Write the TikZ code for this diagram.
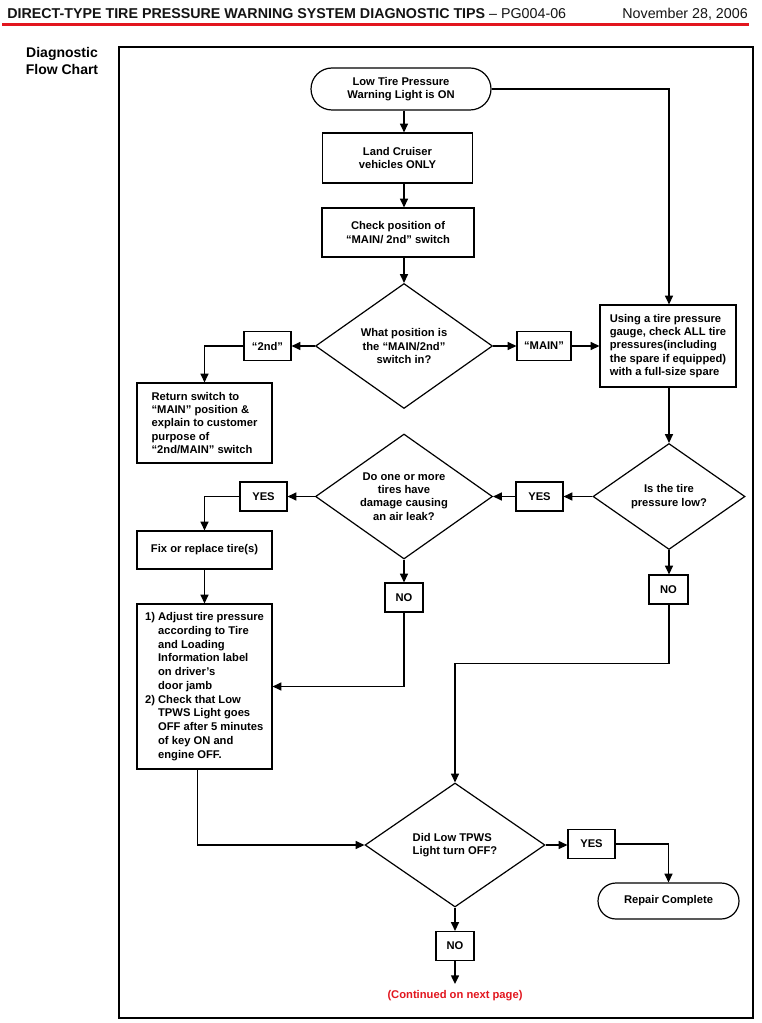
\documentclass[tikz,border=0pt]{standalone}
\usepackage{fontspec}
\setmainfont{Liberation Sans}
\usepackage{xcolor}
\usepackage{tikz}
\usetikzlibrary{arrows.meta, shapes.geometric, shapes.misc}
\definecolor{tpred}{RGB}{226,22,30}
\definecolor{tpdark}{RGB}{20,20,20}
\newcommand{\px}{0.75pt}
\newcommand{\chartfont}{\fontsize{8.4}{10}\selectfont\bfseries}
\newcommand{\hd}{\phantom{1)\ }}

\begin{document}
\begin{tikzpicture}[x=0.75pt, y=-0.75pt,
  stepbox/.style={draw, line width=0.9pt, font=\chartfont, align=center, inner sep=0pt},
  answer/.style={stepbox, minimum height=29*\px},
  decision/.style={draw, diamond, aspect=1.42, line width=0.9pt, font=\chartfont, align=center, inner sep=0pt},
  terminal/.style={draw, rounded rectangle, line width=0.9pt, font=\chartfont, align=center, inner sep=0pt},
  link/.style={line width=1pt, -{Triangle[length=6.5pt, width=6pt]}}]
\useasboundingbox (0,0) rectangle (762,1023);
\fill[white] (0,0) rectangle (762,1023);

% ---- page header ----
\node[anchor=base west, inner sep=0pt, text=tpdark, font=\fontsize{10.7}{12}\selectfont] (title) at (7,19)
  {\textbf{DIRECT-TYPE TIRE PRESSURE WARNING SYSTEM DIAGNOSTIC TIPS} -- PG004-06};
\node[anchor=base east, inner sep=0pt, text=tpdark, font=\fontsize{10.7}{12}\selectfont] (date) at (748,19)
  {November 28, 2006};
\draw[tpred, line width=2.3pt] (2,24.5) -- (749,24.5);

% ---- side heading + frame ----
\node[font=\fontsize{10.5}{12.4}\selectfont\bfseries, align=center] (side) at (62,61) {Diagnostic\\Flow Chart};
\draw[line width=1.1pt] (119,47) rectangle (753,1018);

% ---- steps ----
\node[terminal, minimum width=180*\px, minimum height=42*\px] (start) at (401,89)
  {Low Tire Pressure\\Warning Light is ON};
\node[stepbox, minimum width=150*\px, minimum height=50*\px] (cruiser) at (397.5,158)
  {Land Cruiser\\vehicles ONLY};
\node[stepbox, minimum width=152*\px, minimum height=49*\px] (check) at (398,232.5)
  {Check position of\\“MAIN/ 2nd” switch};
\node[decision, minimum width=177*\px, minimum height=125*\px] (switchpos) at (404,346)
  {What position is\\the “MAIN/2nd”\\switch in?};
\node[stepbox, align=left, minimum width=135*\px, minimum height=80*\px] (back) at (204.5,423)
  {Return switch to\\“MAIN” position \&\\explain to customer\\purpose of\\“2nd/MAIN” switch};
\node[stepbox, align=left, minimum width=136*\px, minimum height=82*\px] (gauge) at (668,346)
  {Using a tire pressure\\gauge, check ALL tire\\pressures(including\\the spare if equipped)\\with a full-size spare};
\node[decision, minimum width=152*\px, minimum height=106*\px] (low) at (669,496.5)
  {Is the tire\\pressure low?};
\node[decision, minimum width=177*\px, minimum height=125*\px] (leak) at (404,496.5)
  {Do one or more\\tires have\\damage causing\\an air leak?};
\node[stepbox, minimum width=135*\px, minimum height=38*\px] (fix) at (204.5,550)
  {Fix or replace tire(s)};
\node[stepbox, align=left, minimum width=135*\px, minimum height=165*\px,
      font=\fontsize{8.4}{10.3}\selectfont\bfseries] (adjust) at (204.5,686.5)
  {1) Adjust tire pressure\\\hd according to Tire\\\hd and Loading\\\hd Information label\\\hd on driver's\\\hd door jamb\\
   2) Check that Low\\\hd TPWS Light goes\\\hd OFF after 5 minutes\\\hd of key ON and\\\hd engine OFF.};
\node[decision, align=left, minimum width=180*\px, minimum height=124*\px] (lightoff) at (455,845)
  {Did Low TPWS\\Light turn OFF?};
\node[terminal, minimum width=141*\px, minimum height=36*\px] (done) at (668.5,901)
  {Repair Complete};

% ---- answer tags ----
\foreach \nm/\x/\y/\w/\t in {sec/267.5/346/47/“2nd”, main/544/346/54/“MAIN”,
                             yesa/539.5/496.5/47/YES, yesb/263.5/496.5/47/YES,
                             noa/404/597.5/38/NO, nob/668.5/589.5/39/NO,
                             yesc/591.5/844/47/YES, noc/455/946/38/NO}{
  \node[answer, minimum width=\w*\px] (\nm) at (\x,\y) {\t};
}
\coordinate (nextpage) at (455,984);
\node[font=\chartfont, text=tpred] (cont) at (455,996) {(Continued on next page)};

% ---- connectors ----
\draw[link] (switchpos.north |- start.south) -- (switchpos.north |- cruiser.north);
\draw[link] (switchpos.north |- cruiser.south) -- (switchpos.north |- check.north);
\draw[link] (switchpos.north |- check.south) -- (switchpos.north);
\draw[link] (switchpos.west) -- (sec.east |- switchpos.west);
\draw[link] (sec.west) -| (back.north);
\draw[link] (switchpos.east) -- (main.west |- switchpos.east);
\draw[link] (main.east) -- (gauge.west);
\draw[link] (start.east) -| (low.north |- gauge.north);
\draw[link] (low.north |- gauge.south) -- (low.north);
\draw[link] (low.west) -- (yesa.east |- low.west);
\draw[link] (yesa.west) -- (leak.east |- yesa.west);
\draw[link] (leak.west) -- (yesb.east |- leak.west);
\draw[link] (yesb.west) -| (fix.north);
\draw[link] (fix.south) -- (adjust.north);
\draw[link] (leak.south) -- (noa.north);
\draw[link] (noa.south) |- (adjust.east);
\draw[link] (low.south) -- (low.south |- nob.north);
\draw[link] (low.south |- nob.south) -- ++(0,59) -| (lightoff.north);
\draw[link] ([xshift=-7*\px]adjust.south) |- (lightoff.west);
\draw[link] (lightoff.east) -- (yesc.west |- lightoff.east);
\draw[link] (yesc.east) -| (done.north);
\draw[link] (lightoff.south) -- (noc.north);
\draw[link] (noc.south) -- (nextpage);
\end{tikzpicture}
\end{document}
